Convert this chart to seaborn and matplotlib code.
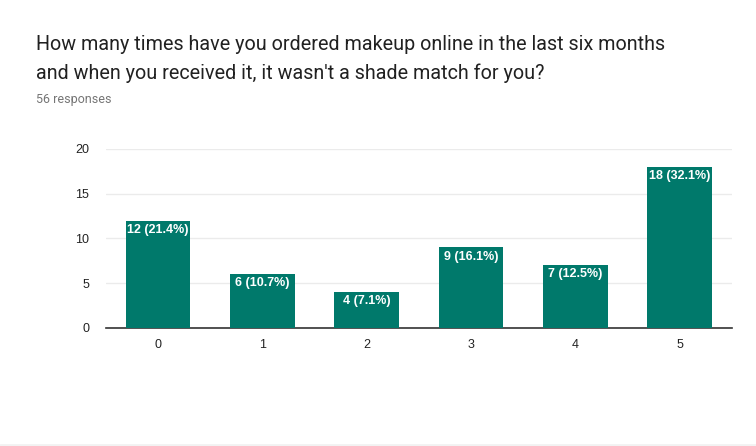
import matplotlib
matplotlib.use("Agg")
import seaborn as sns
import matplotlib.pyplot as plt
import pandas as pd

categories = ["0", "1", "2", "3", "4", "5"]
counts = [12, 6, 4, 9, 7, 18]
labels = ["12 (21.4%)", "6 (10.7%)", "4 (7.1%)", "9 (16.1%)", "7 (12.5%)", "18 (32.1%)"]

sns.set_style("white")
plt.rcParams["font.family"] = ["Roboto", "DejaVu Sans"]

df = pd.DataFrame({"answer": categories, "count": counts})

fig = plt.figure(figsize=(7.56, 4.46), dpi=100)
ax = fig.add_axes([0.140, 0.2646, 0.828, 0.4014])

sns.barplot(data=df, x="answer", y="count", color="#00796b", saturation=1,
            width=0.62, linewidth=0, ax=ax, zorder=3)

ax.set_ylim(0, 20)
ax.set_yticks([0, 5, 10, 15, 20])
ax.yaxis.grid(True, color="#ebebeb", linewidth=1, zorder=0)
ax.set_axisbelow(True)
for s in ["left", "right", "top"]:
    ax.spines[s].set_visible(False)
ax.spines["bottom"].set_color("#333333")
ax.spines["bottom"].set_linewidth(1.2)
ax.set_xlabel("")
ax.set_ylabel("")
ax.tick_params(axis="both", length=0, labelsize=9, colors="#222222", pad=8)
ax.tick_params(axis="y", pad=12)
for t in ax.get_xticklabels() + ax.get_yticklabels():
    t.set_family(["Liberation Sans", "DejaVu Sans"])

for i, (c, lab) in enumerate(zip(counts, labels)):
    ax.text(i, c - 0.35, lab, ha="center", va="top", color="white",
            fontsize=9, fontweight="bold", family=["Liberation Sans", "DejaVu Sans"], zorder=4)

fig.text(36 / 756, 1 - 45 / 446, "How many times have you ordered makeup online in the last six months",
         fontsize=14.2, color="#212121", va="center", ha="left")
fig.text(36 / 756, 1 - 73 / 446, "and when you received it, it wasn't a shade match for you?",
         fontsize=14.2, color="#212121", va="center", ha="left")
fig.text(36 / 756, 1 - 100 / 446, "56 responses", fontsize=9, color="#757575",
         va="center", ha="left")

fig.add_artist(plt.Line2D([0, 1], [1.5 / 446, 1.5 / 446], color="#f2f2f2", linewidth=2))

fig.savefig("out.png", dpi=100)
